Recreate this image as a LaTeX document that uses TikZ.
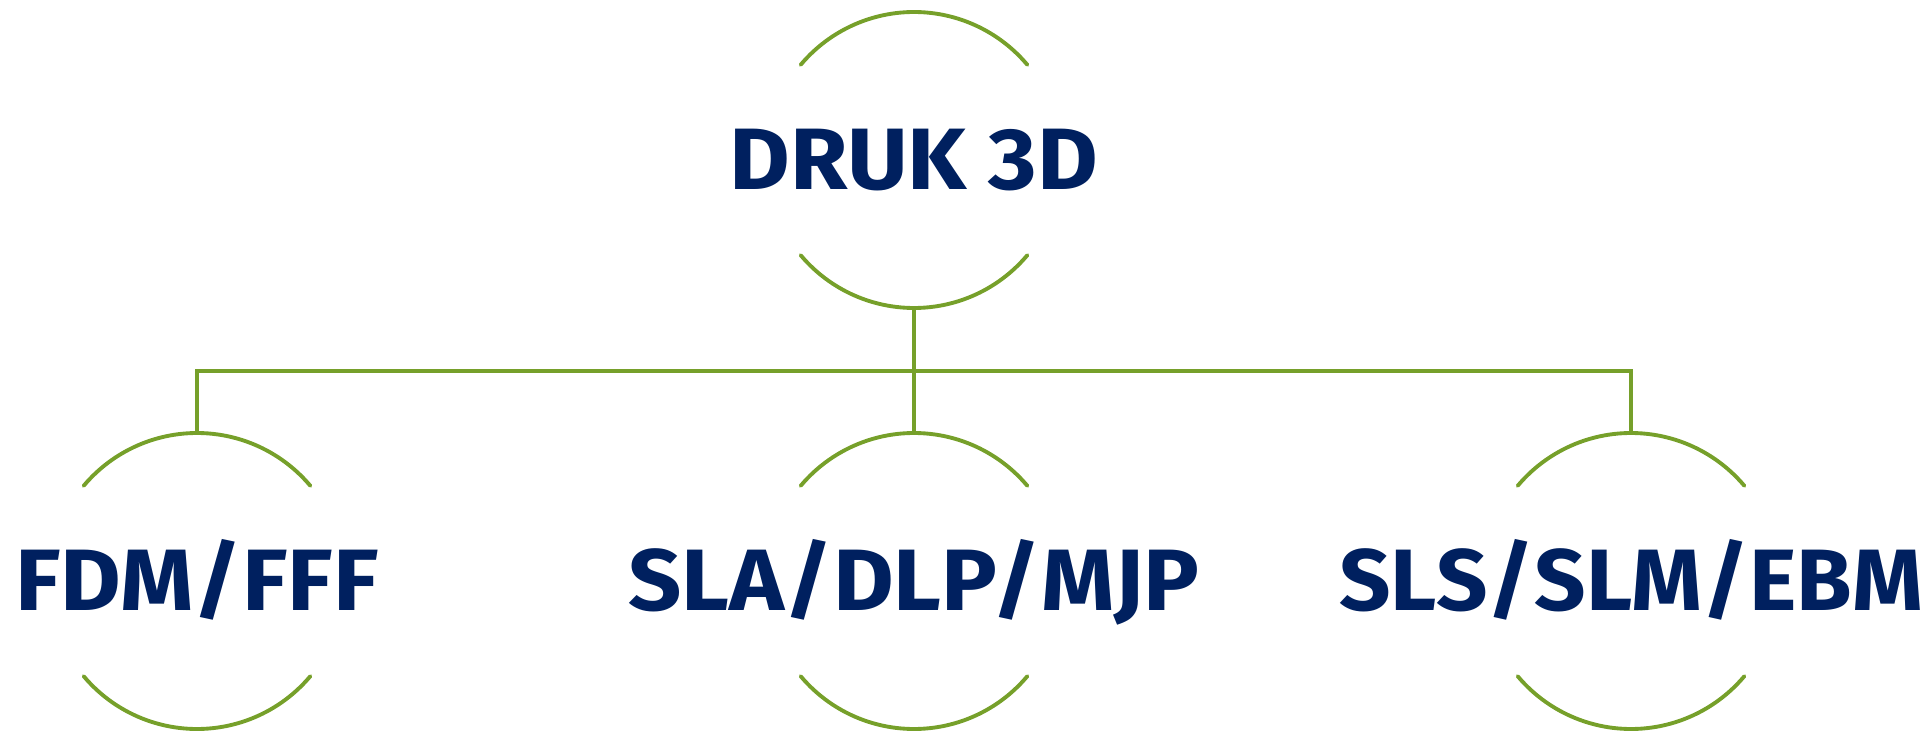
\documentclass[tikz,border=0pt]{standalone}
\usepackage{fontspec}
\newfontfamily\techfont{Fira Sans}[FakeStretch=1.07]
\newfontfamily\techfontnarrow{Fira Sans}[FakeStretch=1.034]
\usepackage{tikz}
\usetikzlibrary{calc,positioning}
\usepackage{xcolor}
\definecolor{navy}{HTML}{00205F}
\definecolor{leaf}{HTML}{76A02A}
\tikzset{
  tech/.style={font=\techfont\bfseries\fontsize{49.6}{50}\selectfont,text=navy,
    inner sep=0pt,text height=34.1pt,text depth=0pt},
  technarrow/.style={tech,font=\techfontnarrow\bfseries\fontsize{49.6}{50}\selectfont},
  bow/.style={draw=leaf,line width=2.2pt,line cap=round},
  link/.style={draw=leaf,line width=2pt}
}
% two arcs round a label
\newcommand{\bows}[1]{%
  \draw[bow] ($(#1)+(140:148)$) arc[start angle=140,end angle=40,radius=148];
  \draw[bow] ($(#1)+(220:148)$) arc[start angle=220,end angle=320,radius=148];}

\begin{document}
\begin{tikzpicture}[x=0.02cm,y=0.02cm]
  \useasboundingbox (0,0) rectangle (1929,734);
  \node[tech] (druk) at (914,574) {DRUK 3D};
  \node[tech] (fdm) at (197,153) {FDM/FFF};
  \node[tech] (sla) at (914,153) {SLA/DLP/MJP};
  \node[technarrow] (sls) at (1631,153) {SLS/SLM/EBM};
  \bows{druk}
  \bows{fdm}
  \bows{sla}
  \bows{sls}
  \coordinate (druk-b) at ($(druk)+(0,-148)$);
  \coordinate (fdm-t) at ($(fdm)+(0,148)$);
  \coordinate (sla-t) at ($(sla)+(0,148)$);
  \coordinate (sls-t) at ($(sls)+(0,148)$);
  \coordinate (bus) at ($(druk)+(0,-211)$);
  \draw[link] (druk-b) -- (sla-t);
  \draw[link] (fdm-t) |- (bus) -| (sls-t);
\end{tikzpicture}
\end{document}
